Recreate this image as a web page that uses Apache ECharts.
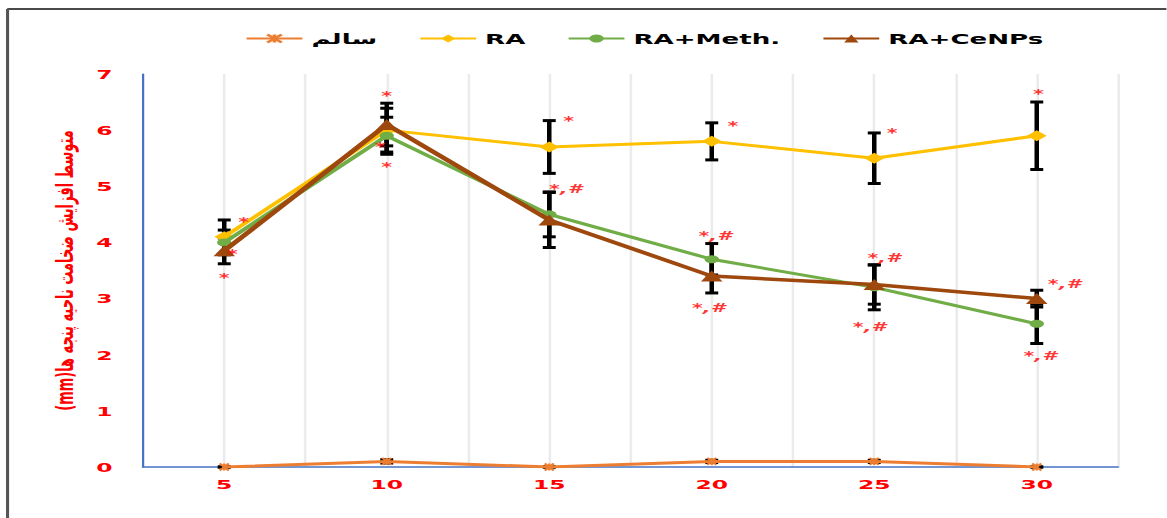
<!DOCTYPE html>
<html>
<head>
<meta charset="utf-8">
<script src="https://cdn.jsdelivr.net/npm/echarts@6/dist/echarts.min.js"></script>
<style>
html,body{margin:0;padding:0;background:#fff;overflow:hidden;}
#chart{height:518px;transform-origin:0 0;}
</style>
</head>
<body>
<div id="chart"></div>
<script>
// ---- data ----
const days = [5, 10, 15, 20, 25, 30];
const seriesNames = ['سالم', 'RA', 'RA+Meth.', 'RA+CeNPs'];
const healthy = [0, 0.1, 0, 0.1, 0.1, 0];
const healthyErr = [0, 0.03, 0, 0.02, 0.02, 0];
const ra = [4.1, 6.0, 5.7, 5.8, 5.5, 5.9];
const raErr = [0.3, 0.39, 0.47, 0.33, 0.45, 0.6];
const meth = [4.0, 5.9, 4.5, 3.7, 3.2, 2.55];
const methErr = [0.22, 0.33, 0.4, 0.28, 0.4, 0.35];
const cenps = [3.85, 6.1, 4.4, 3.4, 3.25, 3.0];
const cenpsErr = [0.23, 0.38, 0.49, 0.3, 0.35, 0.15];
const yTicks = [0, 1, 2, 3, 4, 5, 6, 7];
// significance marks: x (day), y (value), text
const markX = [5.6, 5.25, 5.0, 10.0, 9.8, 10.0, 15.6, 15.5, 20.65, 20.1, 19.9, 25.55, 25.3, 24.85, 30.05, 30.85, 30.1];
const markY = [4.36, 3.79, 3.37, 6.61, 5.70, 5.34, 6.16, 4.95, 6.07, 4.11, 2.83, 5.95, 3.72, 2.49, 6.64, 3.26, 1.98];
const markText = ['*', '*', '*', '*', '*', '*', '*', '*,#', '*', '*,#', '*,#', '*', '*,#', '*,#', '*', '*,#', '*,#'];
const yName = 'متوسط افزایش ضخامت ناحیه پنجه ها(mm)';

// ---- layout: the reference picture is stretched horizontally ----
const S = 1.8;
const W = 1167 / S;
const el = document.getElementById('chart');
el.style.width = W + 'px';
el.style.transform = 'scaleX(' + S + ')';

// ---- build ----
function pts(vals) { return days.map((d, i) => [d, vals[i]]); }
function errPts(vals, errs) { return days.map((d, i) => [d, vals[i] - errs[i], vals[i] + errs[i]]); }
const allErr = [].concat(errPts(healthy, healthyErr), errPts(ra, raErr), errPts(meth, methErr), errPts(cenps, cenpsErr));

const chart = echarts.init(el, null, { renderer: 'svg', width: W, height: 518 });
const red = '#FF0000';
const font = 'DejaVu Sans';
const option = {
  backgroundColor: '#fff',
  animation: false,
  graphic: [
    { type: 'line', shape: { x1: 4, y1: 9, x2: W, y2: 9 }, style: { stroke: '#4a4a4a', lineWidth: 2 } },
    { type: 'line', shape: { x1: 4.2, y1: 9, x2: 4.2, y2: 518 }, style: { stroke: '#555', lineWidth: 1.7 } }
  ],
  legend: {
    data: seriesNames,
    left: 131,
    top: 26,
    itemWidth: 31,
    itemHeight: 10,
    itemGap: 23,
    textStyle: { color: '#000', fontWeight: 'bold', fontSize: 14.5, fontFamily: font }
  },
  grid: { left: 143 / S, right: 49 / S, top: 74, bottom: 51, containLabel: false },
  xAxis: {
    type: 'value',
    min: 2.5, max: 32.5, interval: 2.5,
    axisLine: { show: true, lineStyle: { color: '#4472C4', width: 1.5 } },
    axisTick: { show: false },
    splitLine: { show: true, lineStyle: { color: '#EBEBEB', width: 1.4 } },
    axisLabel: {
      color: red, fontWeight: 'bold', fontSize: 13, fontFamily: font, margin: 11,
      formatter: v => (days.indexOf(v) >= 0 ? String(v) : '')
    }
  },
  yAxis: {
    type: 'value',
    min: yTicks[0], max: yTicks[yTicks.length - 1], interval: 1,
    name: '\u202B' + yName + '\u202C',
    nameLocation: 'middle',
    nameGap: 33,
    nameTextStyle: { color: red, fontWeight: 'bold', fontSize: 13, fontFamily: font },
    axisLine: { show: true, lineStyle: { color: '#4472C4', width: 1.2 } },
    axisTick: { show: false },
    splitLine: { show: false },
    axisLabel: { color: red, fontWeight: 'bold', fontSize: 13, fontFamily: font, margin: 17 }
  },
  series: [
    {
      type: 'custom',
      name: 'err',
      z: 1,
      silent: true,
      encode: { x: 0, y: [1, 2] },
      data: allErr,
      renderItem: function (params, api) {
        const x = api.value(0), lo = api.value(1), hi = api.value(2);
        const p1 = api.coord([x, hi]), p2 = api.coord([x, lo]);
        const hw = 3.6;
        return {
          type: 'group',
          children: [
            { type: 'line', shape: { x1: p1[0], y1: p1[1], x2: p2[0], y2: p2[1] }, style: { stroke: '#000', lineWidth: 2.5 } },
            { type: 'line', shape: { x1: p1[0] - hw, y1: p1[1], x2: p1[0] + hw, y2: p1[1] }, style: { stroke: '#000', lineWidth: 3 } },
            { type: 'line', shape: { x1: p2[0] - hw, y1: p2[1], x2: p2[0] + hw, y2: p2[1] }, style: { stroke: '#000', lineWidth: 3 } }
          ]
        };
      }
    },
    {
      name: seriesNames[0], type: 'line', z: 3, data: pts(healthy),
      symbol: 'path://M0,0L10,10M10,0L0,10M5,0L5,10', symbolSize: [5, 7],
      itemStyle: { color: '#ED7D31', borderColor: '#ED7D31', borderWidth: 1.5 },
      lineStyle: { color: '#ED7D31', width: 3 }
    },
    {
      name: seriesNames[1], type: 'line', z: 4, data: pts(ra),
      symbol: 'diamond', symbolSize: [11, 11],
      itemStyle: { color: '#FFC000' },
      lineStyle: { color: '#FFC000', width: 3 }
    },
    {
      name: seriesNames[2], type: 'line', z: 5, data: pts(meth),
      symbol: 'circle', symbolSize: 8,
      itemStyle: { color: '#70AD47' },
      lineStyle: { color: '#70AD47', width: 3 }
    },
    {
      name: seriesNames[3], type: 'line', z: 6, data: pts(cenps),
      symbol: 'triangle', symbolSize: [12, 11],
      itemStyle: { color: '#9E480E' },
      lineStyle: { color: '#9E480E', width: 3.5 }
    },
    {
      type: 'scatter', name: 'marks', z: 8, silent: true,
      symbolSize: 0,
      data: markX.map((x, i) => ({ value: [x, markY[i]], name: markText[i] })),
      label: {
        show: true, position: 'inside', formatter: p => p.name,
        color: red, fontWeight: 'bold', fontStyle: 'italic', fontSize: 11.5, fontFamily: font
      }
    }
  ]
};
chart.setOption(option);
</script>
</body>
</html>
